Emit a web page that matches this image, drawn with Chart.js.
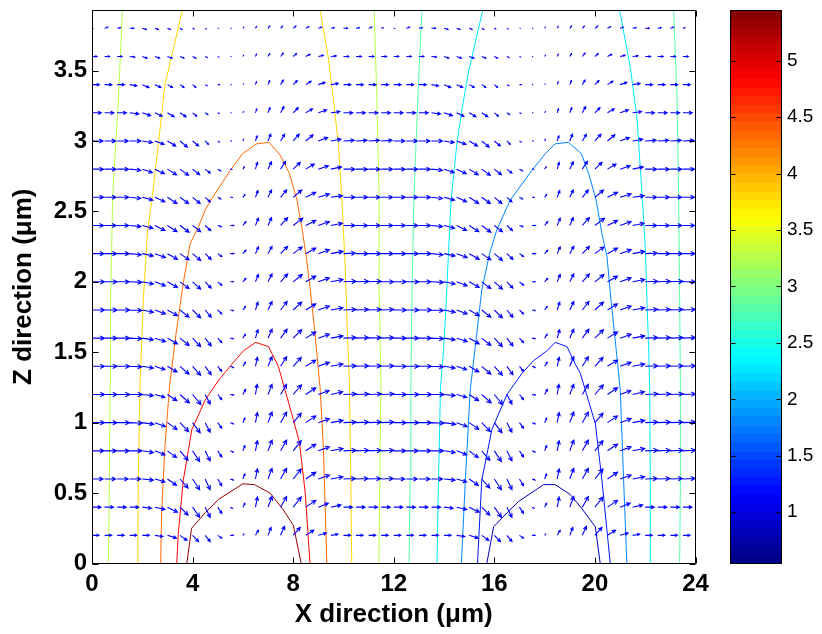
<!DOCTYPE html>
<html>
<head>
<meta charset="utf-8">
<title>Flow field</title>
<script src="https://cdn.jsdelivr.net/npm/chart.js"></script>
<style>
  body { margin:0; background:#fff; overflow:hidden; }
  #wrap { position:relative; width:822px; height:634px; }
  #wrap canvas { position:absolute; left:0; top:0; }
</style>
</head>
<body>
<div id="wrap">
  <canvas id="main" width="822" height="634"></canvas>
  <canvas id="cbar" width="822" height="634"></canvas>
</div>
<script>
// grille des flèches (µm)
const xCols = [0,0.5,1,1.5,2,2.5,3,3.5,4,4.5,5,5.5,6,6.5,7,7.5,8,8.5,9,9.5,10,10.5,11,11.5,
               12,12.5,13,13.5,14,14.5,15,15.5,16,16.5,17,17.5,18,18.5,19,19.5,20,20.5,21,21.5,22,22.5,23,23.5,24];
const zRows = [0,0.2,0.4,0.6,0.8,1,1.2,1.4,1.6,1.8,2,2.2,2.4,2.6,2.8,3,3.2,3.4,3.6,3.8];

// composantes du champ (unités de QS µm), une ligne par z
const uRows = [
  [2,2,2,2,2,2,2,2,2,2,2,2,2,2,2,2,2,2,2,2,2,2,2,2, 2,2,2,2,2,2,2,2,2,2,2,2,2,2,2,2,2,2,2,2,2,2,2,2, 2],
  [7,7,7,7,7,8,9,7,6,5,4,3,1,3,3,4,7,8,8,7,7,7,7,7, 7,7,7,7,7,8,9,7,6,5,4,3,1,3,3,4,7,8,8,7,7,7,7,7, 7],
  [9,9,9,9,9,10,10,8,7,5,4,2,2,2,4,6,8,10,10,10,9,9,9,9, 9,9,9,9,9,10,10,8,7,5,4,2,2,2,4,6,8,10,10,10,9,9,9,9, 9],
  [11,11,11,11,11,10,9,8,7,5,4,3,2,2,4,6,8,10,11,12,12,12,12,12, 11,11,11,11,11,10,9,8,7,5,4,3,2,2,4,6,8,10,11,12,12,12,12,12, 11],
  [12,12,12,12,11,10,9,8,7,5,4,3,2,2,4,6,8,10,11,12,12.5,12.5,12.5,12.5, 12,12,12,12,11,10,9,8,7,5,4,3,2,2,4,6,8,10,11,12,12.5,12.5,12.5,12.5, 12],
  [12.5,12.5,12.5,12.5,11.5,10.5,9.5,8.5,7.5,5,4,3,2,2,4,6,8,10,11,12,12.5,12.5,12.5,12.5, 12.5,12.5,12.5,12.5,11.5,10.5,9.5,8.5,7.5,5,4,3,2,2,4,6,8,10,11,12,12.5,12.5,12.5,12.5, 12.5],
  [12.5,12.5,12.5,12.5,11,10,9.3,9.3,8.3,5,4,3.3,2.7,1.7,4,6,8.3,10,10.7,11.7,12.7,12.7,12.7,12.7, 12.5,12.5,12.5,12.5,11,10,9.3,9.3,8.3,5,4,3.3,2.7,1.7,4,6,8.3,10,10.7,11.7,12.7,12.7,12.7,12.7, 12.5],
  [12.5,12.5,12.5,12,11,10,9.5,9,8,6,4,3,2.5,2,4,6,8,10,11,12,12.5,12.5,12.5,12.5, 12.5,12.5,12.5,12,11,10,9.5,9,8,6,4,3,2.5,2,4,6,8,10,11,12,12.5,12.5,12.5,12.5, 12.5],
  [12.5,12.5,12.5,12,11,10.5,10,9,8,6,4,3,2.5,2.5,4,6.5,8.5,10,11,12,12.5,12.5,12.5,12.5, 12.5,12.5,12.5,12,11,10.5,10,9,8,6,4,3,2.5,2.5,4,6.5,8.5,10,11,12,12.5,12.5,12.5,12.5, 12.5],
  [12.5,12.5,12.5,12,11,10.5,10,9,8,6,4,3,2.5,2.5,4,6.5,8.5,10,11,12,12.5,12.5,12.5,12.5, 12.5,12.5,12.5,12,11,10.5,10,9,8,6,4,3,2.5,2.5,4,6.5,8.5,10,11,12,12.5,12.5,12.5,12.5, 12.5],
  [12.5,12.5,12,12,11,10.5,10,9,8,6,4,3,3,3,4,7,9,10,11,12,12.5,12.5,12.5,12.5, 12.5,12.5,12,12,11,10.5,10,9,8,6,4,3,3,3,4,7,9,10,11,12,12.5,12.5,12.5,12.5, 12.5],
  [12,12,12,11.5,11,10.5,10,9,8,6,4,3.5,3,3,4,7,9,10,11,12,12,12,12,12, 12,12,12,11.5,11,10.5,10,9,8,6,4,3.5,3,3,4,7,9,10,11,12,12,12,12,12, 12],
  [11.5,11.5,11.5,11,10.5,10,9.5,9,8,5.5,3.5,3.5,3,3,3.5,7,9.5,10,11,11.5,11.5,11.5,11.5,11.5, 11.5,11.5,11.5,11,10.5,10,9.5,9,8,5.5,3.5,3.5,3,3,3.5,7,9.5,10,11,11.5,11.5,11.5,11.5,11.5, 11.5],
  [11.5,11.5,11.5,11,10.5,10,9.5,8.5,7.5,5,3,2,2,2.5,3.5,6,8.5,10,11,11.5,11.5,11.5,11.5,11.5, 11.5,11.5,11.5,11,10.5,10,9.5,8.5,7.5,5,3,2,2,2.5,3.5,6,8.5,10,11,11.5,11.5,11.5,11.5,11.5, 11.5],
  [11.5,11.5,11.5,11,10,9.5,9,8.5,7,5,3,1.5,1.5,2,3.5,5,7,8.5,10,10.5,11.5,11.5,11.5,11.5, 11.5,11.5,11.5,11,10,9.5,9,8.5,7,5,3,1.5,1.5,2,3.5,5,7,8.5,10,10.5,11.5,11.5,11.5,11.5, 11.5],
  [11,11,11,11,10,9.3,8.3,7.3,6,3.3,1.7,1,0.7,1.7,2.7,4,6,7.3,9.3,10,11,11,11,11, 11,11,11,11,10,9.3,8.3,7.3,6,3.3,1.7,1,0.7,1.7,2.7,4,6,7.3,9.3,10,11,11,11,11, 11],
  [9.3,9.3,9.3,9,8.3,7.3,6.7,6,4,2.7,1.3,0.5,0.7,1.3,2,3.3,5,6.7,8.3,9,9.3,9.3,9.3,9.3, 9.3,9.3,9.3,9,8.3,7.3,6.7,6,4,2.7,1.3,0.5,0.7,1.3,2,3.3,5,6.7,8.3,9,9.3,9.3,9.3,9.3, 9.3],
  [7.3,7.3,7.3,7,6.7,6,5,4,3.3,2,1.7,0.5,0.5,1,1.7,2.7,4,5.3,6.7,7.3,7.3,7.3,7.3,7.3, 7.3,7.3,7.3,7,6.7,6,5,4,3.3,2,1.7,0.5,0.5,1,1.7,2.7,4,5.3,6.7,7.3,7.3,7.3,7.3,7.3, 7.3],
  [5,5,5,5,4.7,4.7,4.7,4,3.3,2,1,0.5,0.7,1,1.7,2.7,3.3,4.3,5,5.3,5.3,5.3,5.3,5.3, 5,5,5,5,4.7,4.7,4.7,4,3.3,2,1,0.5,0.7,1,1.7,2.7,3.3,4.3,5,5.3,5.3,5.3,5.3,5.3, 5],
  [1,3.3,3.3,4,4,3.3,3,2,1.3,1,0.5,0.5,0.7,1,1.7,2,2.7,3,3.3,3.3,4,3.3,3.3,2, 1,3.3,3.3,4,4,3.3,3,2,1.3,1,0.5,0.5,0.7,1,1.7,2,2.7,3,3.3,3.3,4,3.3,3.3,2, 1]
];
const wRows = [
  [0,0,0,0,0,0,0,0,0,0,0,0,0,0,0,0,0,0,0,0,0,0,0,0, 0,0,0,0,0,0,0,0,0,0,0,0,0,0,0,0,0,0,0,0,0,0,0,0, 0],
  [0,0,0,0,0,-0.2,-0.5,-0.9,-1.1,-1.1,-0.5,0,0.2,0.9,1.4,1.6,1.4,0.9,0.4,0.2,0,0,0,0, 0,0,0,0,0,-0.2,-0.5,-0.9,-1.1,-1.1,-0.5,0,0.2,0.9,1.4,1.6,1.4,0.9,0.4,0.2,0,0,0,0, 0],
  [0,0,0,0,-0.2,-0.4,-0.9,-1.4,-1.8,-1.8,-1.1,-0.2,0.7,1.8,1.9,1.9,1.8,1.2,0.7,0.4,0,0,0,0, 0,0,0,0,-0.2,-0.4,-0.9,-1.4,-1.8,-1.8,-1.1,-0.2,0.7,1.8,1.9,1.9,1.8,1.2,0.7,0.4,0,0,0,0, 0],
  [0,0,0,0,-0.2,-0.5,-1.1,-1.6,-1.9,-1.9,-1.2,-0.2,0.9,1.8,1.9,1.9,1.8,1.2,0.7,0.4,0.1,0.1,0.1,0.1, 0,0,0,0,-0.2,-0.5,-1.1,-1.6,-1.9,-1.9,-1.2,-0.2,0.9,1.8,1.9,1.9,1.8,1.2,0.7,0.4,0.1,0.1,0.1,0.1, 0],
  [0,0,0,0,-0.3,-0.7,-1.2,-1.7,-1.9,-1.8,-1.1,-0.2,0.9,1.8,1.9,1.9,1.8,1.2,0.7,0.4,0.1,0.1,0.1,0.1, 0,0,0,0,-0.3,-0.7,-1.2,-1.7,-1.9,-1.8,-1.1,-0.2,0.9,1.8,1.9,1.9,1.8,1.2,0.7,0.4,0.1,0.1,0.1,0.1, 0],
  [0,0,0,-0.1,-0.3,-0.7,-1.2,-1.6,-1.8,-1.7,-1,-0.2,0.8,1.8,1.9,1.9,1.7,1.2,0.7,0.4,0.1,0.1,0.1,0.1, 0,0,0,-0.1,-0.3,-0.7,-1.2,-1.6,-1.8,-1.7,-1,-0.2,0.8,1.8,1.9,1.9,1.7,1.2,0.7,0.4,0.1,0.1,0.1,0.1, 0],
  [0,0,0,0,-0.2,-0.5,-1.1,-1.5,-1.8,-1.7,-0.9,-0.1,0.9,1.8,1.8,1.8,1.7,1.2,0.7,0.5,0.1,0.1,0.1,0.1, 0,0,0,0,-0.2,-0.5,-1.1,-1.5,-1.8,-1.7,-0.9,-0.1,0.9,1.8,1.8,1.8,1.7,1.2,0.7,0.5,0.1,0.1,0.1,0.1, 0],
  [0,0,0,-0.1,-0.3,-0.6,-1,-1.4,-1.6,-1.5,-0.9,-0.2,0.7,1.6,1.7,1.7,1.6,1.1,0.7,0.4,0.1,0.1,0.1,0.1, 0,0,0,-0.1,-0.3,-0.6,-1,-1.4,-1.6,-1.5,-0.9,-0.2,0.7,1.6,1.7,1.7,1.6,1.1,0.7,0.4,0.1,0.1,0.1,0.1, 0],
  [0,0,0,-0.1,-0.3,-0.6,-1,-1.3,-1.5,-1.4,-0.8,-0.1,0.7,1.5,1.6,1.6,1.5,1.1,0.7,0.4,0.1,0.1,0.1,0.1, 0,0,0,-0.1,-0.3,-0.6,-1,-1.3,-1.5,-1.4,-0.8,-0.1,0.7,1.5,1.6,1.6,1.5,1.1,0.7,0.4,0.1,0.1,0.1,0.1, 0],
  [0,0,0,-0.1,-0.4,-0.7,-1,-1.3,-1.4,-1.3,-0.7,-0.1,0.6,1.4,1.5,1.5,1.4,1.1,0.7,0.4,0.1,0.1,0.1,0.1, 0,0,0,-0.1,-0.4,-0.7,-1,-1.3,-1.4,-1.3,-0.7,-0.1,0.6,1.4,1.5,1.5,1.4,1.1,0.7,0.4,0.1,0.1,0.1,0.1, 0],
  [0,0,0,-0.1,-0.4,-0.7,-1,-1.2,-1.3,-1.1,-0.6,0,0.6,1.3,1.4,1.4,1.3,1,0.7,0.4,0.1,0.1,0.1,0, 0,0,0,-0.1,-0.4,-0.7,-1,-1.2,-1.3,-1.1,-0.6,0,0.6,1.3,1.4,1.4,1.3,1,0.7,0.4,0.1,0.1,0.1,0, 0],
  [0,0,0,-0.2,-0.4,-0.7,-1,-1.1,-1.2,-1,-0.5,0,0.6,1.2,1.3,1.3,1.2,1,0.7,0.4,0.1,0,0,0, 0,0,0,-0.2,-0.4,-0.7,-1,-1.1,-1.2,-1,-0.5,0,0.6,1.2,1.3,1.3,1.2,1,0.7,0.4,0.1,0,0,0, 0],
  [0,0,0,-0.2,-0.5,-0.9,-1.1,-1.2,-1.1,-0.9,-0.2,0,0.7,1.3,1.4,1.4,1.3,0.9,0.7,0.4,0,0,0,0, 0,0,0,-0.2,-0.5,-0.9,-1.1,-1.2,-1.1,-0.9,-0.2,0,0.7,1.3,1.4,1.4,1.3,0.9,0.7,0.4,0,0,0,0, 0],
  [0,0,0,-0.2,-0.5,-0.8,-1.1,-1.1,-1.1,-0.8,-0.3,0,0.5,1.2,1.3,1.3,1.3,0.9,0.6,0.3,0,0,0,0, 0,0,0,-0.2,-0.5,-0.8,-1.1,-1.1,-1.1,-0.8,-0.3,0,0.5,1.2,1.3,1.3,1.3,0.9,0.6,0.3,0,0,0,0, 0],
  [0,0,0,-0.2,-0.6,-0.8,-1,-1.1,-1,-0.7,-0.3,0,0.4,1.2,1.3,1.4,1.2,0.9,0.6,0.4,0,0,0,0, 0,0,0,-0.2,-0.6,-0.8,-1,-1.1,-1,-0.7,-0.3,0,0.4,1.2,1.3,1.4,1.2,0.9,0.6,0.4,0,0,0,0, 0],
  [0,0,0,0,-0.3,-0.6,-0.9,-1.1,-0.9,-0.6,-0.2,0,0.3,0.9,1.2,1.2,1.2,1.1,0.6,0.3,0.1,0.1,0.1,0.1, 0,0,0,0,-0.3,-0.6,-0.9,-1.1,-0.9,-0.6,-0.2,0,0.3,0.9,1.2,1.2,1.2,1.1,0.6,0.3,0.1,0.1,0.1,0.1, 0],
  [0,0,0,-0.2,-0.5,-0.6,-0.7,-0.7,-0.6,-0.3,-0.1,0,0.2,0.7,0.9,1.1,0.9,0.7,0.5,0.2,0,0,0,0, 0,0,0,-0.2,-0.5,-0.6,-0.7,-0.7,-0.6,-0.3,-0.1,0,0.2,0.7,0.9,1.1,0.9,0.7,0.5,0.2,0,0,0,0, 0],
  [0,0,0,-0.2,-0.5,-0.5,-0.5,-0.5,-0.5,-0.2,0,0,0.1,0.5,0.7,0.8,0.7,0.6,0.4,0.2,0,0,0,0, 0,0,0,-0.2,-0.5,-0.5,-0.5,-0.5,-0.5,-0.2,0,0,0.1,0.5,0.7,0.8,0.7,0.6,0.4,0.2,0,0,0,0, 0],
  [0,0,0,-0.1,-0.3,-0.3,-0.3,-0.3,-0.3,-0.2,-0.1,0,0.2,0.4,0.5,0.6,0.5,0.4,0.2,0.1,0,0,0,0, 0,0,0,-0.1,-0.3,-0.3,-0.3,-0.3,-0.3,-0.2,-0.1,0,0.2,0.4,0.5,0.6,0.5,0.4,0.2,0.1,0,0,0,0, 0],
  [0,0.2,0.1,0,-0.2,-0.2,-0.2,-0.2,-0.1,-0.1,0,0,0.2,0.3,0.4,0.4,0.4,0.3,0.2,0.1,0,0.1,0.2,0.1, 0,0.2,0.1,0,-0.2,-0.2,-0.2,-0.2,-0.1,-0.1,0,0,0.2,0.3,0.4,0.4,0.4,0.3,0.2,0.1,0,0.1,0.2,0.1, 0]
];
const QS = 0.04; // µm par unité de champ

// lignes de contour (x en µm, z en µm)
const lv53x = [3.77,3.96,4.5,5.03,6.0,6.46,7.08,7.61,8.01,8.32];
const lv53z = [0,0.25,0.36,0.455,0.566,0.56,0.50,0.38,0.27,0];
const lv48x = [3.37,3.43,3.63,3.97,4.5,5.03,5.49,6.02,6.51,7.02,7.41,7.68,8.01,8.25,8.48,8.67];
const lv48z = [0,0.21,0.59,0.95,1.16,1.30,1.40,1.51,1.57,1.54,1.40,1.23,1.02,0.86,0.50,0];
const lv43x = [2.73,2.77,2.90,3.08,3.34,3.63,3.90,4.23,4.50,4.73,5.49,5.99,6.55,7.04,7.48,7.85,8.15,8.34,8.52,8.67,8.87,9.07,9.20,9.34];
const lv43z = [0,0.36,0.83,1.25,1.63,1.99,2.27,2.39,2.51,2.58,2.79,2.91,2.98,2.99,2.90,2.77,2.58,2.39,2.18,1.96,1.63,1.25,0.83,0];
const lv38ax = [1.82,1.84,1.91,2.04,2.20,2.38,2.64,2.90,3.60];
const lv38az = [0,0.59,1.27,1.87,2.34,2.58,2.98,3.40,3.93];
const lv38bx = [10.33,10.29,10.24,10.16,10.07,9.94,9.80,9.60,9.40,9.07];
const lv38bz = [0,0.59,1.27,1.63,2.10,2.58,2.98,3.29,3.59,3.93];
const lv33ax = [0.65,0.68,0.72,0.74,0.82,0.88,1.05,1.21];
const lv33az = [0,0.36,1.27,1.87,2.58,2.81,3.29,3.93];
const lv33bx = [11.41,11.43,11.49,11.43,11.42,11.33,11.22];
const lv33bz = [0,0.36,1.27,1.87,2.58,3.29,3.93];
const lv28ax = [12.61,12.65,12.68,12.72,12.80,12.85,12.98,13.12];
const lv28az = [0,0.6,1.23,1.87,2.58,2.81,3.40,3.93];
const lv28bx = [23.37,23.40,23.40,23.37,23.33,23.27,23.13];
const lv28bz = [0,0.6,1.23,1.87,2.58,3.29,3.93];
const lv23ax = [13.72,13.78,13.86,13.98,14.09,14.18,14.28,14.51,14.71,14.97,15.54];
const lv23az = [0,0.6,1.25,1.51,1.87,2.22,2.58,2.98,3.22,3.49,3.93];
const lv23bx = [22.23,22.20,22.18,22.14,22.07,22.01,21.89,21.74,21.67,21.41,20.98];
const lv23bz = [0,0.6,1.23,1.51,1.87,2.22,2.58,2.98,3.17,3.52,3.93];
const lv18x = [14.69,14.85,15.04,15.30,15.50,15.81,16.10,16.63,17.49,18.03,18.42,18.95,19.46,19.75,20.05,20.28,20.48,20.64,20.81,21.01,21.14,21.27];
const lv18z = [0,0.6,1.23,1.63,1.94,2.20,2.37,2.58,2.79,2.91,2.98,2.99,2.91,2.77,2.58,2.34,2.18,1.87,1.58,1.23,0.6,0];
const lv13x = [15.33,15.50,15.90,16.50,17.10,17.56,18.09,18.42,18.89,19.15,19.42,19.62,20.02,20.28,20.61];
const lv13z = [0,0.59,0.95,1.20,1.35,1.44,1.51,1.57,1.54,1.44,1.35,1.23,0.99,0.59,0];
const lv08x = [15.70,15.97,16.56,16.96,17.96,18.42,19.02,19.48,20.02,20.21];
const lv08z = [0,0.26,0.37,0.44,0.56,0.56,0.49,0.39,0.26,0];

const contourLines = [
  [5.3, lv53x, lv53z], [4.8, lv48x, lv48z], [4.3, lv43x, lv43z],
  [3.8, lv38ax, lv38az], [3.8, lv38bx, lv38bz],
  [3.3, lv33ax, lv33az], [3.3, lv33bx, lv33bz],
  [2.8, lv28ax, lv28az], [2.8, lv28bx, lv28bz],
  [2.3, lv23ax, lv23az], [2.3, lv23bx, lv23bz],
  [1.8, lv18x, lv18z], [1.3, lv13x, lv13z], [0.8, lv08x, lv08z]
];

// échelle de couleur
const cbMin = 0.54, cbMax = 5.45;
const cbTicks = [1,1.5,2,2.5,3,3.5,4,4.5,5];

const FONT = '"Liberation Sans", Arial, sans-serif';
const fmt = v => String(Number(v.toFixed(2)));

function jet(t) {
  const c = v => Math.max(0, Math.min(1, v));
  const r = c(Math.min(4*t - 1.5, -4*t + 4.5));
  const g = c(Math.min(4*t - 0.5, -4*t + 3.5));
  const b = c(Math.min(4*t + 0.5, -4*t + 2.5));
  return 'rgb(' + Math.round(r*255) + ',' + Math.round(g*255) + ',' + Math.round(b*255) + ')';
}
function levelColor(v) {
  const i = Math.min(63, Math.floor((v - cbMin) / (cbMax - cbMin) * 64));
  return jet((i + 0.5) / 64);
}

// flèches type quiver, dessinées via les échelles du graphique
const quiverPlugin = {
  id: 'quiver',
  afterDatasetsDraw(chart) {
    const { ctx, chartArea: a } = chart;
    const xs = chart.scales.x, ys = chart.scales.y;
    ctx.save();
    ctx.beginPath();
    ctx.rect(a.left, a.top, a.right - a.left, a.bottom - a.top);
    ctx.clip();
    ctx.strokeStyle = '#0000ff';
    ctx.lineWidth = 1.1;
    ctx.beginPath();
    zRows.forEach((z, r) => {
      xCols.forEach((xv, c) => {
        const u = uRows[r][c] * QS, w = wRows[r][c] * QS;
        const x0 = xs.getPixelForValue(xv), y0 = ys.getPixelForValue(z);
        const x1 = xs.getPixelForValue(xv + u), y1 = ys.getPixelForValue(z + w);
        const dx = x1 - x0, dy = y1 - y0;
        ctx.moveTo(x0, y0);
        ctx.lineTo(x1, y1);
        const al = 0.35, be = 0.5;
        ctx.moveTo(x1 - al*dx + al*be*dy, y1 - al*dy - al*be*dx);
        ctx.lineTo(x1, y1);
        ctx.lineTo(x1 - al*dx - al*be*dy, y1 - al*dy + al*be*dx);
      });
    });
    ctx.stroke();
    ctx.restore();
  }
};

// cadre et graduations intérieures
const boxPlugin = {
  id: 'box',
  afterDraw(chart) {
    const { ctx, chartArea: a } = chart;
    const xs = chart.scales.x, ys = chart.scales.y;
    const L = Math.round(a.left) + 0.5, R = Math.round(a.right) - 0.5;
    const T = Math.round(a.top) + 0.5, B = Math.round(a.bottom) - 0.5;
    ctx.save();
    ctx.strokeStyle = '#000';
    ctx.lineWidth = 1;
    ctx.beginPath();
    ctx.rect(L, T, R - L, B - T);
    xs.ticks.forEach(t => {
      const p = Math.round(xs.getPixelForValue(t.value)) + 0.5;
      ctx.moveTo(p, B); ctx.lineTo(p, B - 6);
      ctx.moveTo(p, T); ctx.lineTo(p, T + 6);
    });
    ys.ticks.forEach(t => {
      const p = Math.round(ys.getPixelForValue(t.value)) + 0.5;
      ctx.moveTo(L, p); ctx.lineTo(L + 6, p);
      ctx.moveTo(R, p); ctx.lineTo(R - 6, p);
    });
    ctx.stroke();
    ctx.restore();
  }
};

const contourDatasets = contourLines.map(([lev, xs, zs]) => ({
  data: xs.map((x, i) => ({ x: x, y: zs[i] })),
  showLine: true,
  borderColor: levelColor(lev),
  borderWidth: 1,
  pointRadius: 0,
  fill: false,
  tension: 0
}));

const tickFont = { family: FONT, size: 24, weight: 'bold' };
const titleFont = { family: FONT, size: 26, weight: 'bold' };

new Chart(document.getElementById('main'), {
  type: 'scatter',
  data: { datasets: contourDatasets },
  options: {
    responsive: false,
    animation: false,
    devicePixelRatio: 1,
    layout: { padding: { left: 0, right: 126.5, top: 10, bottom: 0 } },
    plugins: { legend: { display: false }, tooltip: { enabled: false } },
    scales: {
      x: {
        type: 'linear', min: 0, max: 24,
        ticks: { stepSize: 4, font: tickFont, color: '#000', padding: 6, maxRotation: 0, autoSkip: false, callback: fmt },
        grid: { display: false, drawTicks: false },
        border: { display: false },
        title: { display: true, text: 'X direction (μm)', font: titleFont, color: '#000', padding: { top: 0, bottom: 4 } },
        afterFit(s) { s.height = 70.5; s.paddingLeft = 0; s.paddingRight = 0; }
      },
      y: {
        type: 'linear', min: 0, max: 3.93,
        ticks: { stepSize: 0.5, includeBounds: false, font: tickFont, color: '#000', padding: 5, callback: fmt },
        grid: { display: false, drawTicks: false },
        border: { display: false },
        title: { display: true, text: 'Z direction (μm)', font: titleFont, color: '#000', padding: { top: 8, bottom: 0 } },
        afterFit(s) { s.width = 92; s.paddingTop = 0; s.paddingBottom = 0; }
      }
    }
  },
  plugins: [quiverPlugin, boxPlugin]
});

// barre de couleur
const cbBands = [];
for (let i = 0; i < 64; i++) {
  const lo = cbMin + i * (cbMax - cbMin) / 64;
  const hi = cbMin + (i + 1) * (cbMax - cbMin) / 64;
  cbBands.push({
    data: [[lo, hi]],
    backgroundColor: jet((i + 0.5) / 64),
    borderWidth: 0,
    barPercentage: 1,
    categoryPercentage: 1,
    grouped: false
  });
}

const cbBoxPlugin = {
  id: 'cbbox',
  afterDraw(chart) {
    const { ctx, chartArea: a } = chart;
    const ys = chart.scales.y;
    const L = Math.round(a.left) + 0.5, R = Math.round(a.right) - 0.5;
    const T = Math.round(a.top) + 0.5, B = Math.round(a.bottom) - 0.5;
    ctx.save();
    ctx.strokeStyle = '#000';
    ctx.lineWidth = 1;
    ctx.beginPath();
    ctx.rect(L, T, R - L, B - T);
    cbTicks.forEach(v => {
      const p = Math.round(ys.getPixelForValue(v)) + 0.5;
      ctx.moveTo(L, p); ctx.lineTo(L + 5, p);
      ctx.moveTo(R, p); ctx.lineTo(R - 5, p);
    });
    ctx.stroke();
    ctx.restore();
  }
};

new Chart(document.getElementById('cbar'), {
  type: 'bar',
  data: { labels: [''], datasets: cbBands },
  options: {
    responsive: false,
    animation: false,
    devicePixelRatio: 1,
    layout: { padding: { left: 730, right: 0, top: 10, bottom: 70 } },
    plugins: { legend: { display: false }, tooltip: { enabled: false } },
    scales: {
      x: { display: false },
      y: {
        position: 'right', min: cbMin, max: cbMax,
        afterBuildTicks(s) { s.ticks = cbTicks.map(v => ({ value: v })); },
        ticks: { font: { family: FONT, size: 19 }, color: '#000', padding: 5, callback: fmt },
        grid: { display: false, drawTicks: false },
        border: { display: false },
        afterFit(s) { s.width = 40; s.paddingTop = 0; s.paddingBottom = 0; }
      }
    }
  },
  plugins: [cbBoxPlugin]
});
</script>
</body>
</html>
